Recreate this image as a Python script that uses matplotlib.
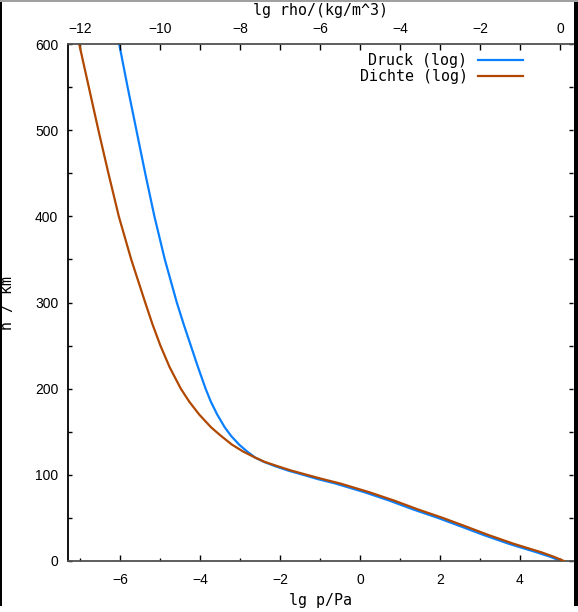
import matplotlib
matplotlib.use("Agg")
import matplotlib.pyplot as plt
from matplotlib.patches import Rectangle
from matplotlib.ticker import MultipleLocator

plt.rcParams["font.family"] = ["Liberation Sans", "DejaVu Sans"]
plt.rcParams["font.size"] = 10
plt.rcParams["xtick.labelsize"] = 10
plt.rcParams["ytick.labelsize"] = 10

# Height (km) and lg p / Pa (bottom axis)
h_p = [0, 5, 10, 20, 30, 40, 50, 60, 70, 80, 90, 95, 100, 105, 110, 115, 120, 127,
       135, 145, 155, 170, 185, 200, 225, 250, 275, 300, 350, 400, 450, 500, 550, 600]
lg_p = [5.02, 4.75, 4.42, 3.72, 3.10, 2.53, 1.95, 1.32, 0.74, 0.10, -0.62, -1.05,
        -1.42, -1.80, -2.12, -2.40, -2.62, -2.82, -3.02, -3.22, -3.38, -3.57, -3.73,
        -3.86, -4.05, -4.23, -4.41, -4.58, -4.88, -5.14, -5.37, -5.59, -5.81, -6.02]

# Height (km) and lg rho / (kg/m^3) (top axis)
h_rho = [0, 5, 10, 20, 30, 40, 50, 60, 70, 80, 90, 95, 100, 105, 110, 115, 120, 127,
         135, 145, 155, 170, 185, 200, 225, 250, 275, 300, 350, 400, 450, 500, 550, 600]
lg_rho = [0.10, -0.16, -0.46, -1.16, -1.78, -2.35, -2.93, -3.56, -4.14, -4.78, -5.50,
          -5.93, -6.33, -6.72, -7.06, -7.38, -7.62, -7.92, -8.20, -8.47, -8.72, -9.02,
          -9.27, -9.48, -9.76, -9.99, -10.19, -10.37, -10.72, -11.03, -11.29, -11.54,
          -11.78, -12.02]

W, H = 578, 612
fig = plt.figure(figsize=(W / 100, H / 100), dpi=100)
fig.patch.set_facecolor("white")

L, R, T, B = 68, 573, 44, 561
ax = fig.add_axes([L / W, (H - B) / H, (R - L) / W, (B - T) / H])
ax2 = ax.twiny()

mono = "DejaVu Sans Mono"

l1, = ax.plot(lg_p, h_p, color="#0a80ff", lw=1.6, label="Druck (log)")
l2, = ax2.plot(lg_rho, h_rho, color="#b04800", lw=1.6, label="Dichte (log)")

ax.set_xlim(-7.3, 5.325)
ax2.set_xlim(-12.3, 0.325)
ax.set_ylim(0, 600)

ax.xaxis.set_major_locator(MultipleLocator(2))
ax.xaxis.set_minor_locator(MultipleLocator(1))
ax2.xaxis.set_major_locator(MultipleLocator(2))
ax2.xaxis.set_minor_locator(MultipleLocator(1))
ax.yaxis.set_major_locator(MultipleLocator(100))
ax.yaxis.set_minor_locator(MultipleLocator(50))

for a in (ax, ax2):
    for s in a.spines.values():
        s.set_visible(False)
ax.spines["left"].set_visible(True)
ax.spines["left"].set_color("black")
ax.spines["left"].set_linewidth(1.3)
ax.spines["bottom"].set_visible(True)
ax.spines["bottom"].set_color("#505050")
ax.spines["bottom"].set_linewidth(1.3)
ax2.spines["top"].set_visible(True)
ax2.spines["top"].set_color("#505050")
ax2.spines["top"].set_linewidth(1.3)

ax.tick_params(axis="x", which="major", direction="in", length=4.5, width=1, pad=9,
               top=False, labelsize=10)
ax.tick_params(axis="x", which="minor", direction="in", length=2.5, width=1, top=False)
ax2.tick_params(axis="x", which="major", direction="in", length=4.5, width=1, pad=6,
                labelsize=10)
ax2.tick_params(axis="x", which="minor", direction="in", length=4.5, width=1)
ax.tick_params(axis="y", which="both", direction="in", length=3, width=1, pad=7,
               right=True, labelsize=10)

ax.set_xlabel("lg p/Pa", family=mono, fontsize=10.8, labelpad=4)
ax2.set_xlabel("lg rho/(kg/m^3)", family=mono, fontsize=10.8)
ax2.xaxis.set_label_coords(0.5, (B - 15) / (B - T))
ax.set_ylabel("h / km", family=mono, fontsize=10.8, labelpad=14)

leg = ax2.legend(handles=[l1, l2], loc="upper right", bbox_to_anchor=(523 / W, 1 - 53 / H),
                 bbox_transform=fig.transFigure, frameon=False, markerfirst=False,
                 prop={"family": mono, "size": 10.8}, handlelength=3.0,
                 handletextpad=0.7, labelspacing=0.05, borderaxespad=0, borderpad=0)

# window border
fig.patches.append(Rectangle((0, 1 - 606 / H), 2 / W, 606 / H, transform=fig.transFigure,
                             facecolor="black", edgecolor="none"))
fig.patches.append(Rectangle((574 / W, 1 - 606 / H), 4 / W, 606 / H, transform=fig.transFigure,
                             facecolor="black", edgecolor="none"))
fig.patches.append(Rectangle((0, 1 - 1.5 / H), 1, 1.5 / H, transform=fig.transFigure,
                             facecolor="#a0a0a0", edgecolor="none"))

fig.savefig("out.png", dpi=100, facecolor="white")
